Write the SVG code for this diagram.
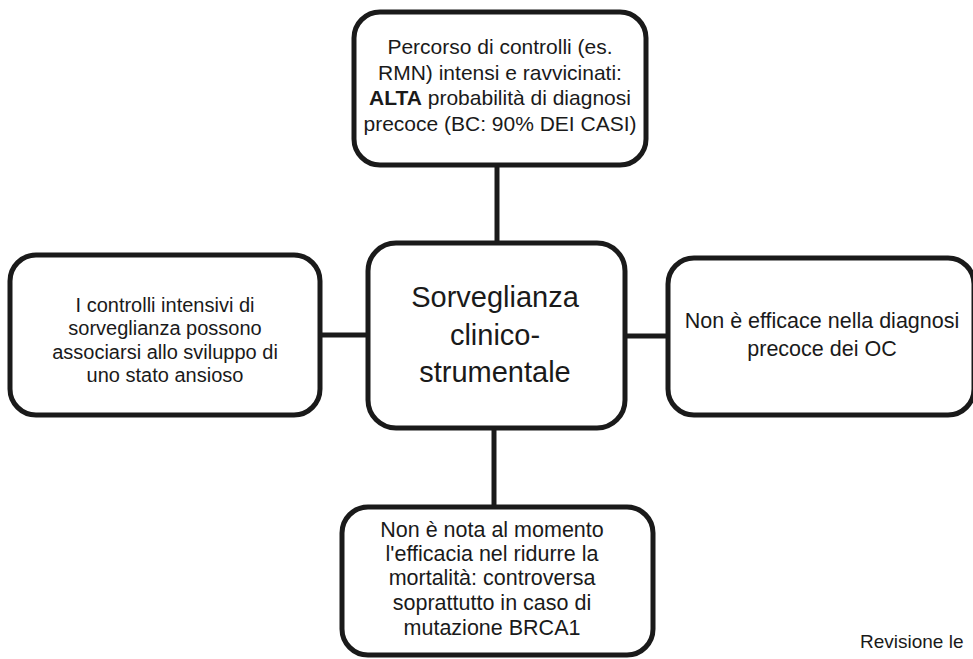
<svg xmlns="http://www.w3.org/2000/svg" width="973" height="659" viewBox="0 0 973 659">
<style>
.box{fill:#ffffff;stroke:#1a1a1a;stroke-width:5}
.con{stroke:#1a1a1a;stroke-width:5;fill:none}
.t{font-family:"Liberation Sans",Arial,sans-serif;fill:#1a1a1a;text-anchor:middle}
.s{font-size:20px}
.m{font-size:21px}
.l{font-size:21.5px}
.big{font-size:29px}
</style>
<rect width="973" height="659" fill="#ffffff"/>
<g id="connectors">
<line class="con" x1="497" y1="165" x2="497" y2="243"/>
<line class="con" x1="494" y1="428" x2="494" y2="507"/>
<line class="con" x1="320" y1="335" x2="368" y2="335"/>
<line class="con" x1="625" y1="336" x2="668" y2="336"/>
</g>
<g id="top">
<rect class="box" x="354" y="12" width="292" height="153" rx="26"/>
<text class="t m" x="500" y="54">Percorso di controlli (es.</text>
<text class="t m" x="500" y="80">RMN) intensi e ravvicinati:</text>
<text class="t m" x="500" y="105"><tspan font-weight="bold">ALTA</tspan> probabilità di diagnosi</text>
<text class="t m" x="500" y="131">precoce (BC: 90% DEI CASI)</text>
</g>
<g id="center">
<rect class="box" x="368" y="243" width="257" height="185" rx="28"/>
<text class="t big" x="495" y="307">Sorveglianza</text>
<text class="t big" x="495" y="345">clinico-</text>
<text class="t big" x="495" y="382">strumentale</text>
</g>
<g id="left">
<rect class="box" x="10" y="255" width="310" height="160" rx="26"/>
<text class="t s" x="165" y="312">I controlli intensivi di</text>
<text class="t s" x="165" y="335">sorveglianza possono</text>
<text class="t s" x="165" y="359">associarsi allo sviluppo di</text>
<text class="t s" x="165" y="382">uno stato ansioso</text>
</g>
<g id="right">
<rect class="box" x="668" y="258" width="306" height="157" rx="26"/>
<text class="t l" x="822" y="328">Non è efficace nella diagnosi</text>
<text class="t l" x="822" y="356">precoce dei OC</text>
</g>
<g id="bottom">
<rect class="box" x="342" y="507" width="311" height="148" rx="26"/>
<text class="t l" x="492" y="537">Non è nota al momento</text>
<text class="t l" x="492" y="561">l'efficacia nel ridurre la</text>
<text class="t l" x="492" y="585">mortalità: controversa</text>
<text class="t l" x="492" y="610">soprattutto in caso di</text>
<text class="t l" x="492" y="635">mutazione BRCA1</text>
</g>
<text x="860" y="648" style="font-family:'Liberation Sans',Arial,sans-serif;font-size:19px;fill:#1a1a1a">Revisione le</text>
</svg>
